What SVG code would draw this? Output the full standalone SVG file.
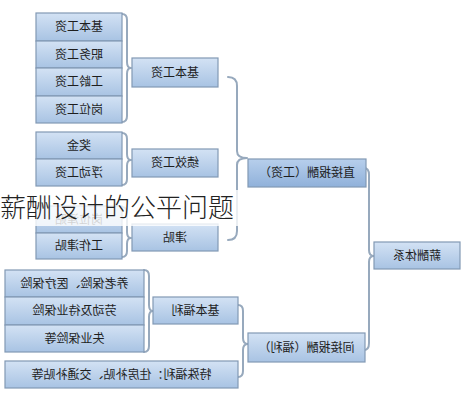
<svg xmlns="http://www.w3.org/2000/svg" width="464" height="400" viewBox="0 0 464 400">
<defs>
<linearGradient id="g" x1="0" y1="0" x2="0" y2="1">
<stop offset="0" stop-color="#d3e2f4"/>
<stop offset="1" stop-color="#a8c3e3"/>
</linearGradient>
<linearGradient id="g2" x1="0" y1="0" x2="0" y2="1">
<stop offset="0" stop-color="#b7cfec"/>
<stop offset="1" stop-color="#90b1da"/>
</linearGradient>
<style>
.b{fill:url(#g);stroke:#8299b4;stroke-width:1.2}
.b2{fill:url(#g2);stroke:#8299b4;stroke-width:1.2}
.t{font-family:"Noto Sans CJK SC","Liberation Sans",sans-serif;font-size:12px;fill:#1e1e1e;text-anchor:middle}
.c{fill:none;stroke:#97a9bd;stroke-width:2;stroke-linecap:round;stroke-linejoin:round}
.title{font-family:"Noto Sans CJK SC","Liberation Sans",sans-serif;font-size:26px;fill:#222;font-weight:300}
</style>
</defs>
<rect width="464" height="400" fill="#fff"/>
<g id="connectors">
<path class="c" d="M122,14 Q127,14 127,20 L127,62 Q127,68 131,68 Q127,68 127,74 L127,116 Q127,122 122,122"/>
<path class="c" d="M122,133 Q127,133 127,139 L127,154 Q127,160 131,160 Q127,160 127,166 L127,179 Q127,185 122,185"/>
<path class="c" d="M122,207 Q127,207 127,213 L127,232 Q127,238 131,238 Q127,238 127,244 L127,251 Q127,257 122,257"/>
<path class="c" d="M144,270 Q149,270 149,276 L149,305 Q149,311 153,311 Q149,311 149,317 L149,346 Q149,352 144,352"/>
<path class="c" d="M228,77 Q237,77 237,86 L237,151 Q237,158 247,158 Q237,158 237,165 L237,231 Q237,240 228,240"/>
<path class="c" d="M238,305 Q243,305 243,311 L243,338 Q243,344 248,344 Q243,344 243,350 L243,371 Q243,377 238,377"/>
<path class="c" d="M364,168 Q369,168 369,175 L369,250 Q369,256 374,256 Q369,256 369,262 L369,343 Q369,350 364,350"/>
</g>
<g id="n1"><rect class="b" x="36" y="13" width="86" height="28"/><text class="t" x="79" y="31" transform="translate(158,0) scale(-1,1)">基本工资</text></g>
<g id="n2"><rect class="b" x="36" y="41" width="86" height="27"/><text class="t" x="79" y="58.5" transform="translate(158,0) scale(-1,1)">职务工资</text></g>
<g id="n3"><rect class="b" x="36" y="68" width="86" height="28"/><text class="t" x="79" y="86" transform="translate(158,0) scale(-1,1)">工龄工资</text></g>
<g id="n4"><rect class="b" x="36" y="96" width="86" height="27"/><text class="t" x="79" y="113.5" transform="translate(158,0) scale(-1,1)">岗位工资</text></g>
<g id="m1"><rect class="b" x="132" y="58" width="86" height="29"/><text class="t" x="175" y="76.5" transform="translate(350,0) scale(-1,1)">基本工资</text></g>
<g id="n5"><rect class="b" x="36" y="132" width="86" height="27"/><text class="t" x="79" y="149.5" transform="translate(158,0) scale(-1,1)">奖金</text></g>
<g id="n6"><rect class="b" x="36" y="159" width="86" height="27"/><text class="t" x="79" y="176.5" transform="translate(158,0) scale(-1,1)">浮动工资</text></g>
<g id="m2"><rect class="b" x="132" y="149" width="86" height="28"/><text class="t" x="175" y="167" transform="translate(350,0) scale(-1,1)">绩效工资</text></g>
<g id="n7"><rect class="b" x="36" y="206" width="86" height="27"/><text class="t" x="79" y="223.5" transform="translate(158,0) scale(-1,1)">岗位津贴</text></g>
<g id="n8"><rect class="b" x="36" y="233" width="86" height="26"/><text class="t" x="79" y="250" transform="translate(158,0) scale(-1,1)">工作津贴</text></g>
<g id="m3"><rect class="b" x="132" y="224" width="86" height="27"/><text class="t" x="175" y="241.5" transform="translate(350,0) scale(-1,1)">津贴</text></g>
<g id="n9"><rect class="b" x="5" y="270" width="139" height="27"/><text class="t" x="74.5" y="287.5" transform="translate(149,0) scale(-1,1)">养老保险、医疗保险</text></g>
<g id="n10"><rect class="b" x="5" y="297" width="139" height="28"/><text class="t" x="74.5" y="315" transform="translate(149,0) scale(-1,1)">劳动及待业保险</text></g>
<g id="n11"><rect class="b" x="5" y="325" width="139" height="27"/><text class="t" x="74.5" y="342.5" transform="translate(149,0) scale(-1,1)">失业保险等</text></g>
<g id="m4"><rect class="b" x="153" y="297" width="85" height="27"/><text class="t" x="195.5" y="314.5" transform="translate(391,0) scale(-1,1)">基本福利</text></g>
<g id="m5"><rect class="b" x="5" y="361" width="233" height="27"/><text class="t" x="121.5" y="378.5" transform="translate(243,0) scale(-1,1)">特殊福利：住房补贴、交通补贴等</text></g>
<g id="d1"><rect class="b2" x="248" y="159" width="118" height="28"/><text class="t" x="307" y="177" transform="translate(614,0) scale(-1,1)">直接报酬（工资）</text></g>
<g id="d2"><rect class="b" x="248" y="333" width="117" height="29"/><text class="t" x="306.5" y="351.5" transform="translate(613,0) scale(-1,1)">间接报酬（福利）</text></g>
<g id="root"><rect class="b" x="374" y="242" width="86" height="27"/><text class="t" x="417" y="259.5" transform="translate(834,0) scale(-1,1)">薪酬体系</text></g>
<rect x="0" y="190" width="240" height="36" fill="#fff" opacity="0.8"/>
<text class="title" x="0" y="217">薪酬设计的公平问题</text>
</svg>
